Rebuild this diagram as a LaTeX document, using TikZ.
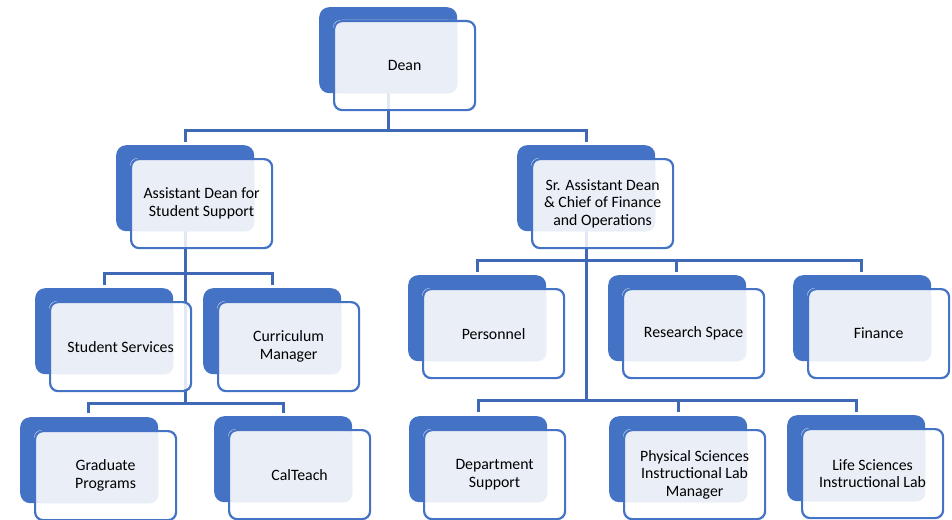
\documentclass[tikz,border=0pt]{standalone}
\usepackage{fontspec}
\setmainfont{Carlito}
\usetikzlibrary{positioning, calc}
\definecolor{orgblue}{RGB}{68,114,196}
\definecolor{orgline}{RGB}{63,104,181}
\definecolor{orglight}{RGB}{233,238,247}

% one unit: blue back card, light front card with the text
\newcommand{\orgunit}[3]{%
  \node[backbox, anchor=north west] (#1-b) at (#2) {};
  \fill[white, fill opacity=.85, rounded corners=8pt] ([shift={(14pt,-13pt)}]#1-b.north west) rectangle ++(141pt,-89pt);
  \fill[orglight, rounded corners=9pt] ([shift={(14pt,-13pt)}]#1-b.north west) rectangle (#1-b.south east);
  \node[frontbox, anchor=north west] (#1) at ([shift={(14pt,-13pt)}]#1-b.north west) {#3};
}

\begin{document}
\begin{tikzpicture}[
  x=1pt, y=-1pt,
  backbox/.style={fill=orgblue, rounded corners=10pt, minimum width=138pt, minimum height=86pt, inner sep=0pt},
  frontbox/.style={draw=orgblue, line width=2.2pt, rounded corners=8pt, minimum width=141pt, minimum height=89pt, inner sep=0pt, align=center, font=\fontsize{15.8}{17.6}\selectfont, text=black},
  conn/.style={draw=orgline, line width=3pt}
]
  \useasboundingbox (0,0) rectangle (952,519);

  % connectors first, cards on top
  \coordinate (top) at (388,93);
  \draw[conn] (top) -- (388,130) coordinate (j-dean);
  \draw[conn] (j-dean) -| (185,142);
  \draw[conn] (j-dean) -| (586,142);

  \coordinate (asst-s) at (185,231);
  \draw[conn] (asst-s) -- (185,273) coordinate (j-asst);
  \draw[conn] (j-asst) -| (104,285);
  \draw[conn] (j-asst) -| (272,285);
  \draw[conn] (j-asst) -- (185,403) coordinate (j-asst2);
  \draw[conn] (j-asst2) -| (88,413);
  \draw[conn] (j-asst2) -| (283,413);

  \coordinate (sr-s) at (586,231);
  \draw[conn] (sr-s) -- (586,260) coordinate (j-sr);
  \draw[conn] (j-sr) -| (477,272);
  \draw[conn] (j-sr) -| (676,272);
  \draw[conn] (j-sr) -| (861,272);
  \draw[conn] (j-sr) -- (586,400) coordinate (j-sr2);
  \draw[conn] (j-sr2) -| (478,412);
  \draw[conn] (j-sr2) -| (678,412);
  \draw[conn] (j-sr2) -| (856,412);

  \orgunit{dean}{319,7}{Dean}
  \orgunit{asst}{116,145}{Assistant Dean for\\Student Support}
  \orgunit{sr}{517,145}{Sr. Assistant Dean\\\& Chief of Finance\\and Operations}
  \orgunit{stud}{35,288}{Student Services}
  \orgunit{curr}{203,288}{Curriculum\\Manager}
  \orgunit{grad}{20,417}{Graduate\\Programs}
  \orgunit{calt}{214,416}{CalTeach}
  \orgunit{pers}{408,275}{Personnel}
  \orgunit{rsch}{608,275}{Research Space}
  \orgunit{fin}{793,275}{Finance}
  \orgunit{dept}{409,416}{Department\\Support}
  \orgunit{phys}{609,416}{Physical Sciences\\Instructional Lab\\Manager}
  \orgunit{life}{787,415}{Life Sciences\\Instructional Lab}
\end{tikzpicture}
\end{document}
